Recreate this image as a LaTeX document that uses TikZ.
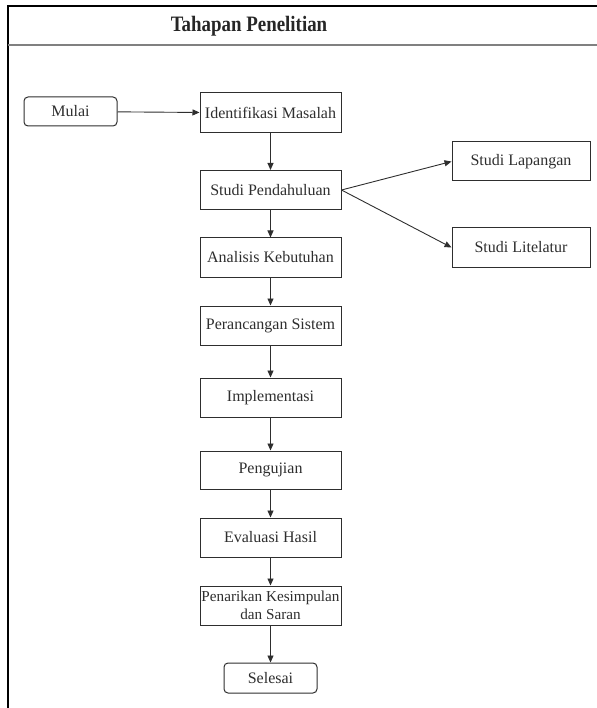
\documentclass[tikz,border=0pt]{standalone}
\usepackage{fontspec}
\setmainfont{Liberation Serif}
\usetikzlibrary{arrows.meta}
\definecolor{ink}{HTML}{2E2E2E}
\begin{document}
\begin{tikzpicture}[x=1pt,y=-1pt,
  stepbox/.style={draw=ink,line width=1pt,minimum width=141pt,minimum height=39pt,inner sep=0.5pt,text=ink,font=\fontsize{16}{17}\selectfont,align=center},
  termbox/.style={draw=ink,line width=1pt,rounded corners=4pt,minimum width=93pt,minimum height=29pt,inner sep=1pt,text=ink,font=\fontsize{16}{17}\selectfont},
  arr/.style={draw=ink,line width=0.9pt,-{Triangle[length=7pt,width=6pt]}}]
\useasboundingbox (0,0) rectangle (596,708);
% frame
\draw[line width=1.6pt] (8,708) -- (8,6) -- (600,6);
\draw[line width=1.3pt,gray] (8,45) -- (600,45);
\node[font=\bfseries\fontsize{22}{23}\selectfont,text=black!85] (title) at (249,26) {\scalebox{0.86}[1]{Tahapan Penelitian}};
% nodes
\node[termbox] (mulai) at (70.5,111.5) {Mulai};
\node[stepbox,minimum height=40pt] (ident) at (270.5,113) {Identifikasi Masalah};
\node[stepbox] (studi) at (270.5,190) {Studi Pendahuluan};
\node[stepbox,minimum width=138pt] (lap) at (521,161.5) {Studi Lapangan};
\node[stepbox,minimum width=138pt] (lit) at (521,247.5) {Studi Litelatur};
\node[stepbox] (anal) at (270.5,257.5) {Analisis Kebutuhan};
\node[stepbox] (peran) at (270.5,325.5) {Perancangan Sistem};
\node[stepbox] (impl) at (270.5,397.5) {Implementasi};
\node[stepbox,minimum height=38pt] (uji) at (270.5,470) {Pengujian};
\node[stepbox] (eval) at (270.5,537.5) {Evaluasi Hasil};
\node[stepbox,font=\fontsize{15.2}{17.5}\selectfont] (tarik) at (270.5,605.5) {Penarikan Kesimpulan\\dan Saran};
\node[termbox,minimum height=30pt] (selesai) at (270.5,678) {Selesai};
% connectors
\draw[arr] (mulai) -- (ident);
\draw[arr] (ident) -- (studi);
\draw[arr] (studi.east) -- (lap.west);
\draw[arr] (studi.east) -- (lit.west);
\draw[arr] (studi) -- (anal);
\draw[arr] (anal) -- (peran);
\draw[arr] (peran) -- (impl);
\draw[arr] (impl) -- (uji);
\draw[arr] (uji) -- (eval);
\draw[arr] (eval) -- (tarik);
\draw[arr] (tarik) -- (selesai);
\end{tikzpicture}
\end{document}
